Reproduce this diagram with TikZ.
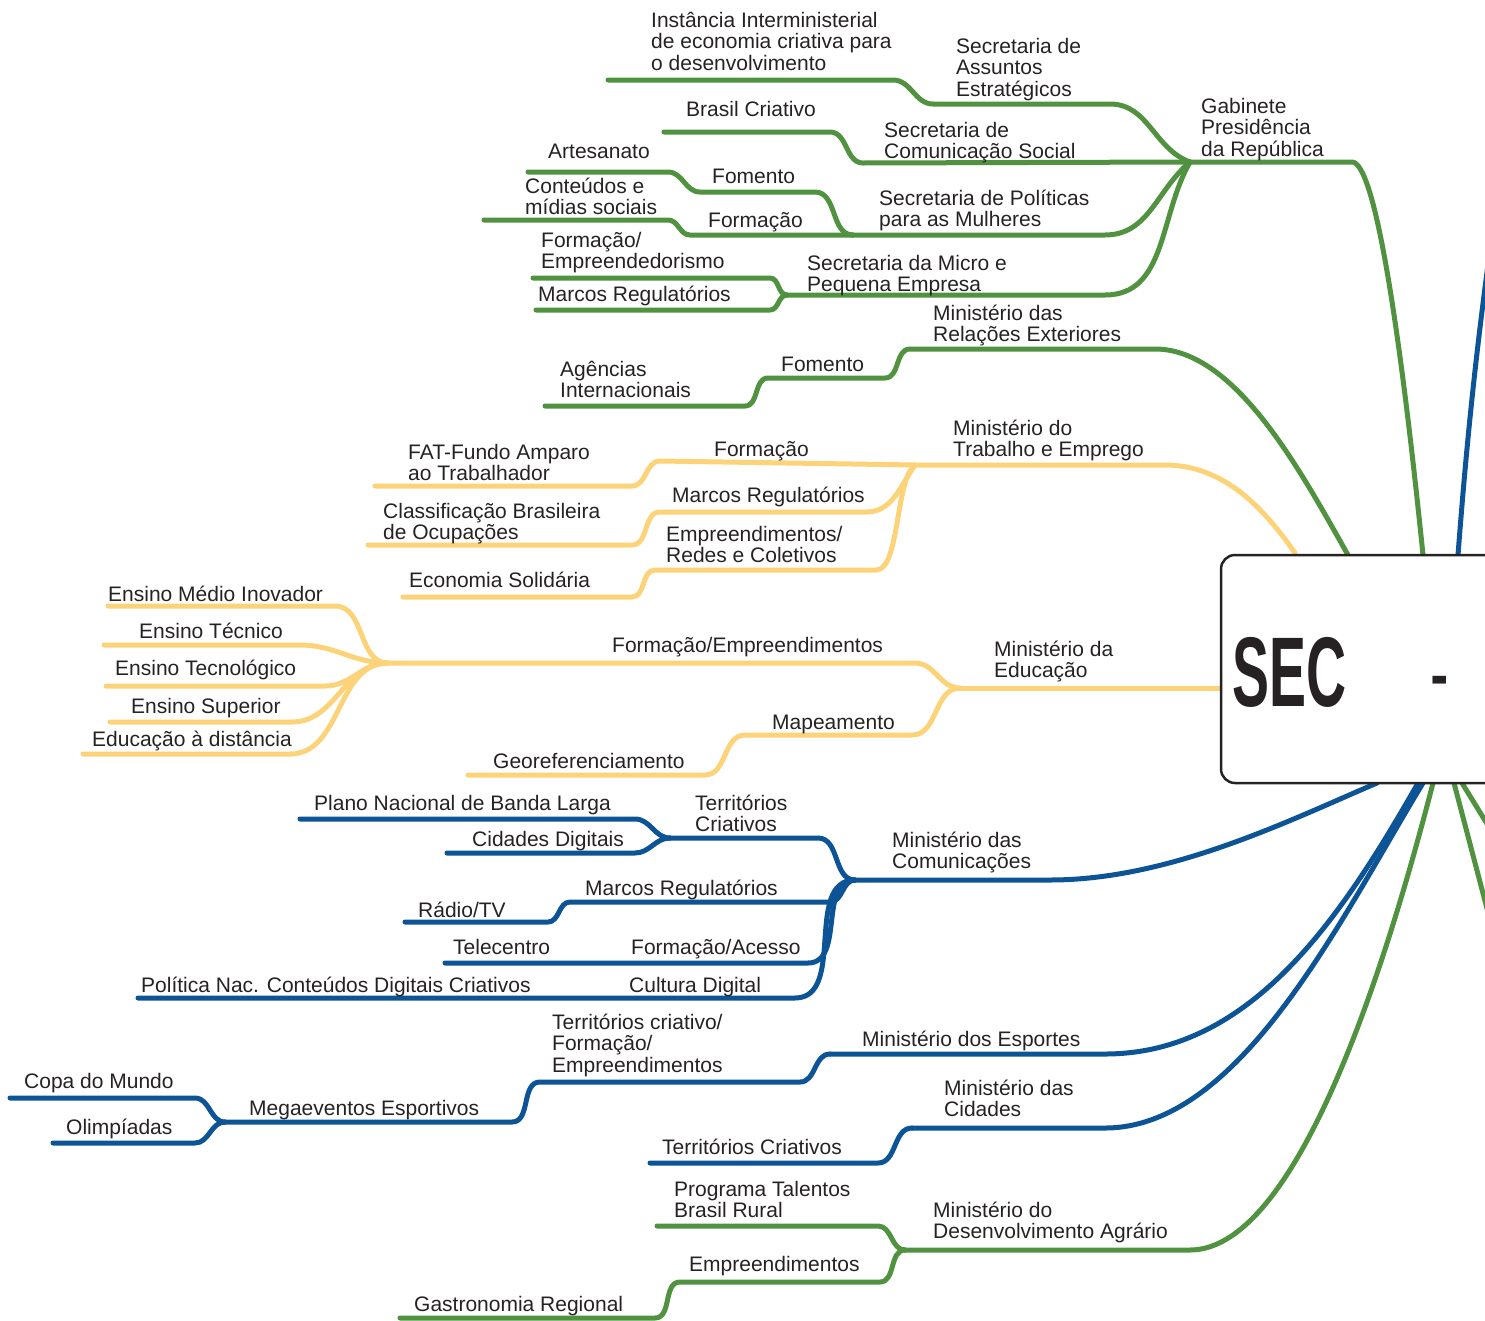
\documentclass[tikz,border=0pt]{standalone}
\usepackage{fontspec}
\setmainfont{Liberation Sans}
\newfontfamily\secfont[FakeStretch=0.56]{Liberation Sans}
\definecolor{cgreen}{RGB}{80,146,64}
\definecolor{cyellow}{RGB}{253,211,122}
\definecolor{cblue}{RGB}{12,84,150}
\definecolor{ctext}{RGB}{38,34,35}
\newcommand\lblfont{\fontsize{21}{21.5}\selectfont\lineskiplimit=-100pt\relax}
\begin{document}
\begin{tikzpicture}[x=1pt,y=-1pt,
  branch/.style={line width=5pt,line cap=round,line join=round},
  grn/.style={branch,draw=cgreen},
  yel/.style={branch,draw=cyellow},
  blu/.style={branch,draw=cblue},
  lbl/.style={anchor=base west,inner sep=0pt,align=left,text=ctext,
    font=\lblfont}]
\useasboundingbox (0,0) rectangle (1485,1320);
\clip (0,0) rectangle (1485,1320);

% ---------- coordinates ----------
\coordinate (gab) at (1190,162);
\coordinate (boxg1) at (1423,555);
\coordinate (inst) at (608,80);
\coordinate (bc) at (664,132);
\coordinate (spm) at (853,235);
\coordinate (art) at (528,172);
\coordinate (cont) at (484,220);
\coordinate (smpe) at (787,295);
\coordinate (fe) at (533,278);
\coordinate (mr1) at (536,310);
\coordinate (agen) at (545,406);
\coordinate (boxg2) at (1348,555);
\coordinate (mte) at (915,465);
\coordinate (boxy1) at (1295,553);
\coordinate (fat) at (375,486);
\coordinate (cbo) at (368,545);
\coordinate (ecos) at (403,597);
\coordinate (mec) at (960,688);
\coordinate (boxy2) at (1222,688);
\coordinate (ens) at (388,663);
\coordinate (emi) at (108,606);
\coordinate (etec) at (104,645);
\coordinate (etcl) at (106,686);
\coordinate (esup) at (110,722);
\coordinate (ead) at (83,754);
\coordinate (geo) at (468,775);
\coordinate (mc) at (855,880);
\coordinate (boxb1) at (1377,783);
\coordinate (tc) at (670,838);
\coordinate (pnbl) at (300,819);
\coordinate (cdig) at (447,853);
\coordinate (rtv) at (405,922);
\coordinate (tele) at (445,963);
\coordinate (pol) at (138,998);
\coordinate (esp) at (830,1054);
\coordinate (boxb2) at (1418,783);
\coordinate (mega) at (225,1122);
\coordinate (copa) at (10,1098);
\coordinate (olim) at (53,1143);
\coordinate (cid) at (912,1128);
\coordinate (boxb3) at (1423,783);
\coordinate (terc) at (650,1163);
\coordinate (mda) at (905,1250);
\coordinate (boxg3) at (1433,783);
\coordinate (ptbr) at (657,1226);
\coordinate (gast) at (400,1318);
\coordinate (boxb0) at (1458,555);
\coordinate (exb) at (1490,250);
\coordinate (boxg4) at (1454,783);
\coordinate (exg4) at (1490,920);
\coordinate (boxg5) at (1462,783);
\coordinate (exg5) at (1500,845);

% ---------- green: Gabinete ----------
\draw[grn] (gab) -- (1352,162) .. controls (1375,162) and (1400,330) .. (boxg1);
\draw[grn] (inst) -- (893,80) to[out=0,in=180] (933,104) -- (1110,104) to[out=0,in=160] (gab);
\draw[grn] (bc) -- (830,132) to[out=0,in=180] (863,163) -- (gab);
\draw[grn] (spm) -- (1105,235) to[out=0,in=220] (gab);
\draw[grn] (art) -- (668,172) to[out=0,in=180] (700,192) -- (815,192) to[out=0,in=180] (spm);
\draw[grn] (cont) -- (668,220) to[out=0,in=180] (690,235) -- (spm);
\draw[grn] (smpe) -- (1105,295) to[out=0,in=240] (gab);
\draw[grn] (fe) -- (770,278) to[out=0,in=180] (smpe);
\draw[grn] (mr1) -- (770,310) to[out=0,in=180] (smpe);
% MRE
\draw[grn] (agen) -- (745,406) to[out=0,in=180] (768,378) -- (885,378) to[out=0,in=180] (910,349) -- (1155,349) .. controls (1235,349) and (1300,470) .. (boxg2);

% ---------- yellow ----------
\draw[yel] (mte) -- (1165,465) .. controls (1225,465) and (1265,510) .. (boxy1);
\draw[yel] (fat) -- (632,486) to[out=0,in=180] (660,461) -- (mte);
\draw[yel] (cbo) -- (632,545) to[out=0,in=180] (660,512) -- (866,512) to[out=0,in=235] (mte);
\draw[yel] (ecos) -- (632,597) to[out=0,in=180] (655,570) -- (876,570) .. controls (900,570) and (895,480) .. (mte);
\draw[yel] (mec) -- (boxy2);
\draw[yel] (ens) -- (915,663) to[out=0,in=180] (mec);
\draw[yel] (emi) -- (335,606) to[out=0,in=180] (ens);
\draw[yel] (etec) -- (300,645) to[out=0,in=180] (ens);
\draw[yel] (etcl) -- (325,686) to[out=0,in=180] (ens);
\draw[yel] (esup) -- (292,722) to[out=0,in=180] (ens);
\draw[yel] (ead) -- (290,754) to[out=0,in=180] (ens);
\draw[yel] (geo) -- (705,775) to[out=0,in=180] (745,735) -- (912,735) to[out=0,in=180] (mec);

% ---------- blue ----------
\draw[blu] (mc) -- (1050,880) .. controls (1170,880) and (1290,820) .. (boxb1);
\draw[blu] (tc) -- (818,838) to[out=0,in=180] (mc);
\draw[blu] (pnbl) -- (635,819) to[out=0,in=180] (tc);
\draw[blu] (cdig) -- (635,853) to[out=0,in=180] (tc);
\draw[blu] (rtv) -- (548,922) to[out=0,in=180] (570,902) -- (830,902) to[out=0,in=180] (mc);
\draw[blu] (tele) -- (808,963) to[out=0,in=180] (mc);
\draw[blu] (pol) -- (795,998) to[out=0,in=180] (mc);
\draw[blu] (esp) -- (1105,1054) .. controls (1250,1054) and (1340,920) .. (boxb2);
\draw[blu] (mega) -- (512,1122) to[out=0,in=180] (540,1082) -- (800,1082) to[out=0,in=180] (esp);
\draw[blu] (copa) -- (195,1098) to[out=0,in=180] (mega);
\draw[blu] (olim) -- (195,1143) to[out=0,in=180] (mega);
\draw[blu] (cid) -- (1105,1128) .. controls (1240,1128) and (1340,920) .. (boxb3);
\draw[blu] (terc) -- (878,1163) to[out=0,in=180] (cid);

% ---------- green: MDA ----------
\draw[grn] (mda) -- (1190,1250) .. controls (1300,1250) and (1390,950) .. (boxg3);
\draw[grn] (ptbr) -- (878,1226) to[out=0,in=180] (mda);
\draw[grn] (gast) -- (655,1318) to[out=0,in=180] (680,1282) -- (880,1282) to[out=0,in=180] (mda);

% ---------- right edge ----------
\draw[blu] (boxb0) .. controls (1466,450) and (1475,360) .. (exb);
\draw[grn] (boxg4) -- (exg4);
\draw[grn] (boxg5) -- (exg5);

% ---------- central box ----------
\node[draw=ctext,line width=2.5pt,rounded corners=14pt,fill=white,
  minimum width=480pt,minimum height=228pt,inner sep=0pt] (sec) at (1461,669) {};
\node[anchor=base west,inner sep=0pt,text=ctext,
  font={\fontsize{99}{99}\secfont\bfseries}] (secl) at (1232,706) {SEC};
\node[anchor=base west,inner sep=0pt,text=ctext,
  font={\fontsize{99}{99}\secfont}] (secd) at (1430,706) {-};

% ---------- labels (anchor = baseline of last line) ----------
\node[lbl] (l_gab) at (1201,156) {Gabinete\\Presidência\\da República};
\node[lbl] (l_sae) at (956,96) {Secretaria de\\Assuntos\\Estratégicos};
\node[lbl] (l_inst) at (651,70) {Instância Interministerial\\de economia criativa para\\o desenvolvimento};
\node[lbl] (l_bc) at (686,116) {Brasil Criativo};
\node[lbl] (l_secom) at (884,158.5) {Secretaria de\\Comunicação Social};
\node[lbl] (l_art) at (548,158) {Artesanato};
\node[lbl] (l_fom1) at (712,183) {Fomento};
\node[lbl] (l_cont) at (525,214.5) {Conteúdos e\\mídias sociais};
\node[lbl] (l_spm) at (879,226.5) {Secretaria de Políticas\\para as Mulheres};
\node[lbl] (l_form1) at (708,227) {Formação};
\node[lbl] (l_fe) at (541,268.5) {Formação/\\Empreendedorismo};
\node[lbl] (l_smpe) at (807,291.5) {Secretaria da Micro e\\Pequena Empresa};
\node[lbl] (l_mr1) at (538,301) {Marcos Regulatórios};
\node[lbl] (l_mre) at (933,341.5) {Ministério das\\Relações Exteriores};
\node[lbl] (l_ag) at (560,397.5) {Agências\\Internacionais};
\node[lbl] (l_fom2) at (781,371) {Fomento};
\node[lbl] (l_mte) at (953,456.5) {Ministério do\\Trabalho e Emprego};
\node[lbl] (l_fat) at (408,480.5) {FAT-Fundo Amparo\\ao Trabalhador};
\node[lbl] (l_form2) at (714,456) {Formação};
\node[lbl] (l_mr2) at (672,502) {Marcos Regulatórios};
\node[lbl] (l_cbo) at (383,539.5) {Classificação Brasileira\\de Ocupações};
\node[lbl] (l_erc) at (666,562.5) {Empreendimentos/\\Redes e Coletivos};
\node[lbl] (l_ecos) at (409,587) {Economia Solidária};
\node[lbl] (l_emi) at (108,601) {Ensino Médio Inovador};
\node[lbl] (l_etec) at (139,638) {Ensino Técnico};
\node[lbl] (l_fempr) at (612,652) {Formação/Empreendimentos};
\node[lbl] (l_mec) at (994,677.5) {Ministério da\\Educação};
\node[lbl] (l_etcl) at (115,675) {Ensino Tecnológico};
\node[lbl] (l_esup) at (131,713) {Ensino Superior};
\node[lbl] (l_map) at (772,729) {Mapeamento};
\node[lbl] (l_ead) at (92,746) {Educação à distância};
\node[lbl] (l_geo) at (493,768) {Georeferenciamento};
\node[lbl] (l_pnbl) at (314,810) {Plano Nacional de Banda Larga};
\node[lbl] (l_tc) at (695,831.5) {Territórios\\Criativos};
\node[lbl] (l_cdig) at (472,846) {Cidades Digitais};
\node[lbl] (l_mc) at (892,868.5) {Ministério das\\Comunicações};
\node[lbl] (l_mr3) at (585,895) {Marcos Regulatórios};
\node[lbl] (l_rtv) at (418,917) {Rádio/TV};
\node[lbl] (l_tele) at (453,954) {Telecentro};
\node[lbl] (l_fa) at (631,954) {Formação/Acesso};
\node[lbl] (l_pol) at (141,992) {Política Nac. Conteúdos Digitais Criativos};
\node[lbl] (l_cd) at (629,992) {Cultura Digital};
\node[lbl] (l_tcfe) at (552,1072) {Territórios criativo/\\Formação/\\Empreendimentos};
\node[lbl] (l_esp) at (862,1046) {Ministério dos Esportes};
\node[lbl] (l_copa) at (24,1088) {Copa do Mundo};
\node[lbl] (l_cid) at (944,1116.5) {Ministério das\\Cidades};
\node[lbl] (l_mega) at (249,1115) {Megaeventos Esportivos};
\node[lbl] (l_olim) at (66,1134) {Olimpíadas};
\node[lbl] (l_terc) at (662,1154) {Territórios Criativos};
\node[lbl] (l_ptbr) at (674,1217.5) {Programa Talentos\\Brasil Rural};
\node[lbl] (l_mda) at (933,1238.5) {Ministério do\\Desenvolvimento Agrário};
\node[lbl] (l_empr) at (689,1271) {Empreendimentos};
\node[lbl] (l_gast) at (414,1311) {Gastronomia Regional};
\end{tikzpicture}
\end{document}
